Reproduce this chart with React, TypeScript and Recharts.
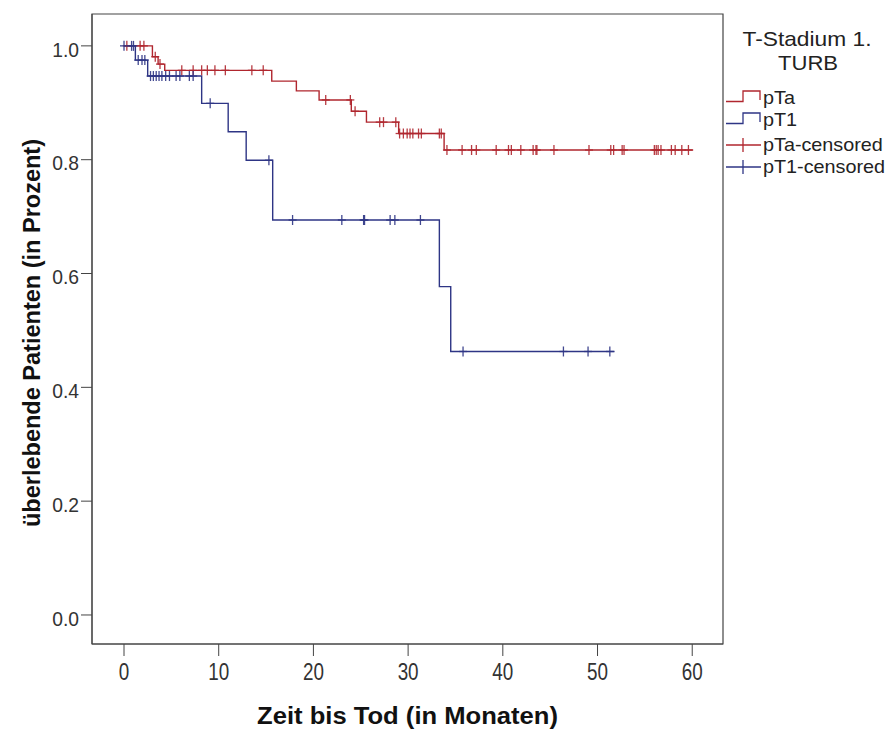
import React from 'react'
import {
  ComposedChart, Line, Scatter, XAxis, YAxis, ReferenceArea, Label,
} from 'recharts'

// Kaplan-Meier Stufen: Zeitpunkt (Monate) und Überlebensanteil danach
const pTaTimes = [0, 3.0, 3.6, 4.3, 15.6, 18.2, 20.6, 24.0, 25.6, 29.0, 33.8, 60.1]
const pTaSurv = [1.0, 0.981, 0.968, 0.957, 0.938, 0.921, 0.905, 0.885, 0.866, 0.846, 0.817, 0.817]
const pTaCensored = [
  0.3, 1.7, 2.1, 3.3, 3.8,
  6.1, 7.3, 8.2, 8.8, 9.6, 10.7, 13.5, 14.7,
  21.3, 23.9, 24.4, 27.0, 27.4, 28.7,
  29.1, 29.5, 29.9, 30.2, 30.5, 31.1, 31.4, 33.3, 33.5,
  34.1, 35.7, 36.7, 37.2, 39.3, 40.6, 40.9, 41.9, 43.2, 43.5, 43.6, 45.4,
  49.1, 51.4, 51.7, 52.6, 52.8, 56.0, 56.2, 56.4, 56.7, 57.8, 58.2, 58.9, 59.6,
]

const pT1Times = [0, 1.2, 2.5, 8.2, 11.0, 12.9, 15.7, 33.3, 34.5, 51.8]
const pT1Surv = [1.0, 0.975, 0.947, 0.899, 0.849, 0.799, 0.694, 0.577, 0.463, 0.463]
const pT1Censored = [
  0.0, 0.8, 1.0, 1.5, 1.9, 2.2,
  2.8, 3.1, 3.4, 3.7, 4.0, 4.4, 4.8, 5.5, 5.9, 6.9, 7.3,
  9.1, 15.3, 17.8, 23.0, 25.3, 25.4, 28.1, 28.6, 31.3,
  35.8, 46.4, 49.0, 51.3,
]

const xTicks = [0, 10, 20, 30, 40, 50, 60]
const yTicks = [0, 0.2, 0.4, 0.6, 0.8, 1.0]

const RED = '#B0262E'
const BLUE = '#2E3585'
const FONT = '"Liberation Sans", Arial, sans-serif'

const X_DOMAIN: [number, number] = [-3.38, 63.25]
const Y_DOMAIN: [number, number] = [-0.051, 1.056]

type Pt = { t: number; s: number }

const steps = (times: number[], surv: number[]): Pt[] =>
  times.map((t, i) => ({ t, s: surv[i] }))

// Wert der Treppenfunktion zum Zensierungszeitpunkt ablesen
const onCurve = (times: number[], surv: number[], cens: number[]): Pt[] =>
  cens.map(t => {
    let k = 0
    for (let i = 0; i < times.length; i++) if (times[i] <= t) k = i
    return { t, s: surv[k] }
  })

const pTaLine = steps(pTaTimes, pTaSurv)
const pT1Line = steps(pT1Times, pT1Surv)
const pTaCens = onCurve(pTaTimes, pTaSurv, pTaCensored)
const pT1Cens = onCurve(pT1Times, pT1Surv, pT1Censored)

function crossShape(color: string) {
  // eslint-disable-next-line @typescript-eslint/no-explicit-any
  return (props: any) => {
    const { cx, cy } = props
    if (cx == null || cy == null) return <g />
    return (
      <g stroke={color} strokeWidth={1.3} opacity={0.9}>
        <line x1={cx} y1={cy - 5} x2={cx} y2={cy + 5} />
        <line x1={cx - 4} y1={cy} x2={cx + 4} y2={cy} />
      </g>
    )
  }
}

// schmale Ziffern wie im SPSS-Original
// eslint-disable-next-line @typescript-eslint/no-explicit-any
function XTick({ x, y, payload }: any) {
  return (
    <text x={x} y={y + 16} textAnchor="middle" dominantBaseline="central"
      transform={`translate(${x},0) scale(0.82,1) translate(${-x},0)`}
      fontFamily={FONT} fontSize={23} fill="#333">
      {payload.value}
    </text>
  )
}

// eslint-disable-next-line @typescript-eslint/no-explicit-any
function YTick({ x, y, payload }: any) {
  return (
    <text x={x} y={y + 3.5} textAnchor="end" dominantBaseline="central"
      transform={`translate(${x},0) scale(0.92,1) translate(${-x},0)`}
      fontFamily={FONT} fontSize={21} fill="#333">
      {Number(payload.value).toFixed(1)}
    </text>
  )
}

// eslint-disable-next-line @typescript-eslint/no-explicit-any
function YTitle({ viewBox }: any) {
  const cy = viewBox.y + viewBox.height / 2 + 4
  return (
    <text x={32} y={cy} transform={`rotate(-90, 32, ${cy})`} textAnchor="middle"
      dominantBaseline="central" fontFamily={FONT} fontWeight={700} fontSize={23} fill="#111"
      textLength={388} lengthAdjust="spacingAndGlyphs">
      überlebende Patienten (in Prozent)
    </text>
  )
}

// eslint-disable-next-line @typescript-eslint/no-explicit-any
function XTitle({ viewBox }: any) {
  return (
    <text x={viewBox.x + viewBox.width / 2} y={715} textAnchor="middle" dominantBaseline="central"
      fontFamily={FONT} fontWeight={700} fontSize={24} fill="#111"
      textLength={301} lengthAdjust="spacingAndGlyphs">
      Zeit bis Tod (in Monaten)
    </text>
  )
}

function LegendBox() {
  const item = (y: number, color: string, label: string, step: boolean) => (
    <g key={label}>
      {step ? (
        <path d={`M726,${y + 3.5} H743 V${y - 7} H760 V${y + 2}`} fill="none" stroke={color} strokeWidth={1.3} />
      ) : (
        <g stroke={color} strokeWidth={1.3}>
          <line x1={726} y1={y} x2={761} y2={y} />
          <line x1={743} y1={y - 7} x2={743} y2={y + 7} />
        </g>
      )}
      <text x={763} y={y} dominantBaseline="central" fontFamily={FONT} fontSize={18} fill="#222"
        transform="translate(763,0) scale(1.1,1) translate(-763,0)">{label}</text>
    </g>
  )
  return (
    <svg width={889} height={729} style={{ position: 'absolute', left: 0, top: 0, pointerEvents: 'none' }}>
      <text x={807} y={38} textAnchor="middle" dominantBaseline="central" fontFamily={FONT} fontSize={21} fill="#222"
        textLength={129} lengthAdjust="spacingAndGlyphs">
        T-Stadium 1.
      </text>
      <text x={808} y={62} textAnchor="middle" dominantBaseline="central" fontFamily={FONT} fontSize={21} fill="#222"
        textLength={60} lengthAdjust="spacingAndGlyphs">
        TURB
      </text>
      {item(98, RED, 'pTa', true)}
      {item(120, BLUE, 'pT1', true)}
      {item(145, RED, 'pTa-censored', false)}
      {item(167, BLUE, 'pT1-censored', false)}
    </svg>
  )
}

export default function App() {
  return (
    <div style={{ position: 'absolute', left: 0, top: 0, width: 889, height: 729, background: '#fff' }}>
      <ComposedChart width={889} height={729} margin={{ top: 14, right: 166, bottom: 0, left: 0 }}>
        <XAxis
          type="number"
          dataKey="t"
          domain={X_DOMAIN}
          ticks={xTicks}
          allowDataOverflow
          height={85}
          tickSize={12}
          tickMargin={0}
          stroke="#444"
          tick={<XTick />}
        >
          <Label content={<XTitle />} />
        </XAxis>
        <YAxis
          type="number"
          dataKey="s"
          domain={Y_DOMAIN}
          ticks={yTicks}
          allowDataOverflow
          width={92}
          tickSize={11}
          tickMargin={2}
          stroke="#444"
          tick={<YTick />}
        >
          <Label content={<YTitle />} />
        </YAxis>

        <ReferenceArea x1={X_DOMAIN[0]} x2={X_DOMAIN[1]} y1={Y_DOMAIN[0]} y2={Y_DOMAIN[1]}
          fill="none" stroke="#444" strokeWidth={1.2} ifOverflow="visible" />

        <Line data={pTaLine} dataKey="s" type="stepAfter" stroke={RED} strokeWidth={1.4}
          dot={false} activeDot={false} isAnimationActive={false} />
        <Line data={pT1Line} dataKey="s" type="stepAfter" stroke={BLUE} strokeWidth={1.4}
          dot={false} activeDot={false} isAnimationActive={false} />
        <Scatter data={pTaCens} dataKey="s" shape={crossShape(RED)} isAnimationActive={false} />
        <Scatter data={pT1Cens} dataKey="s" shape={crossShape(BLUE)} isAnimationActive={false} />
      </ComposedChart>
      <LegendBox />
    </div>
  )
}
